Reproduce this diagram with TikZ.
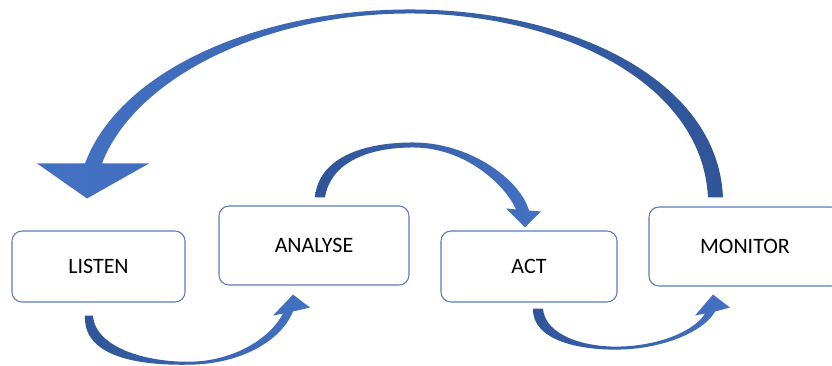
\documentclass[tikz,border=0pt]{standalone}
\usepackage{fontspec}
\setmainfont{Carlito}
\usepackage{xcolor}
\usepackage{tikz}
\usetikzlibrary{positioning,calc}

\definecolor{boxline}{HTML}{5B7BBA}
\definecolor{arrowlight}{HTML}{4472C4}
\definecolor{arrowdark}{HTML}{2F5597}

\tikzset{
  stage/.style={draw=boxline, line width=0.8pt, rounded corners=7.5pt, fill=white,
    inner sep=0pt, font=\fontsize{16.5}{20}\selectfont},
  loopfwd/.style={left color=arrowdark, right color=arrowlight},
  loopback/.style={left color=arrowlight, right color=arrowdark}
}

\begin{document}
\begin{tikzpicture}[x=0.75pt, y=-0.75pt]
    \useasboundingbox (0,0) rectangle (832,365);
    \clip (0,0) rectangle (832,365);

    % Stages
    \node[stage, minimum width=129.75pt, minimum height=53.25pt] (listen) at (98.5,266.5) {LISTEN};
    \node[stage, minimum width=142.5pt, minimum height=59.25pt] (analyse) at (314,245.5) {ANALYSE};
    \node[stage, minimum width=132pt, minimum height=53.25pt] (act) at (529,266.5) {ACT};
    \node[stage, minimum width=144pt, minimum height=59.25pt] (monitor) at (745,246.5) {MONITOR};

    % Listen -> Analyse (below)
    \begin{scope}[shift={(listen.south)}]
        \shade[loopfwd] (-13.5,13) .. controls (-15.5,53) and (36.5,64) .. (96.5,62)
            .. controls (141.5,60) and (181.5,40) .. (194.5,9)
            -- (211.5,5) -- (194.5,-8) -- (174.5,13) -- (184.5,11)
            .. controls (171.5,36) and (136.5,57) .. (96.5,59)
            .. controls (51.5,61) and (-3.5,46) .. (-5.5,13) -- cycle;
    \end{scope}

    % Analyse -> Act (above)
    \begin{scope}[shift={(analyse.north)}]
        \shade[loopfwd] (1,-8) .. controls (4,-46) and (46,-63) .. (99,-63)
            .. controls (156,-63) and (206,-26) .. (215,5)
            -- (227,6) -- (211,22) -- (192,3) -- (202,4)
            .. controls (191,-21) and (151,-58) .. (99,-58)
            .. controls (51,-58) and (16,-41) .. (11,-8) -- cycle;
    \end{scope}

    % Act -> Monitor (below)
    \begin{scope}[shift={(act.south)}]
        \shade[loopfwd] (4,6) .. controls (3,38) and (51,48) .. (91,47)
            .. controls (136,46) and (176,28) .. (186,9)
            -- (201,5) -- (184,-8) -- (166,13) -- (176,11)
            .. controls (166,28) and (131,43) .. (91,44)
            .. controls (56,45) and (16,33) .. (14,6) -- cycle;
    \end{scope}

    % Monitor -> Listen (big loop back)
    \begin{scope}[shift={(monitor.north)}]
        \shade[loopback] (-22,-9) .. controls (-27,-127) and (-175,-197) .. (-335,-197)
            .. controls (-485,-197) and (-625,-137) .. (-660,-43)
            -- (-708,-43) -- (-658,-8) -- (-596,-43) -- (-643,-43)
            .. controls (-610,-129) and (-480,-193) .. (-335,-193)
            .. controls (-190,-193) and (-43,-127) .. (-37,-9) -- cycle;
    \end{scope}
\end{tikzpicture}
\end{document}
